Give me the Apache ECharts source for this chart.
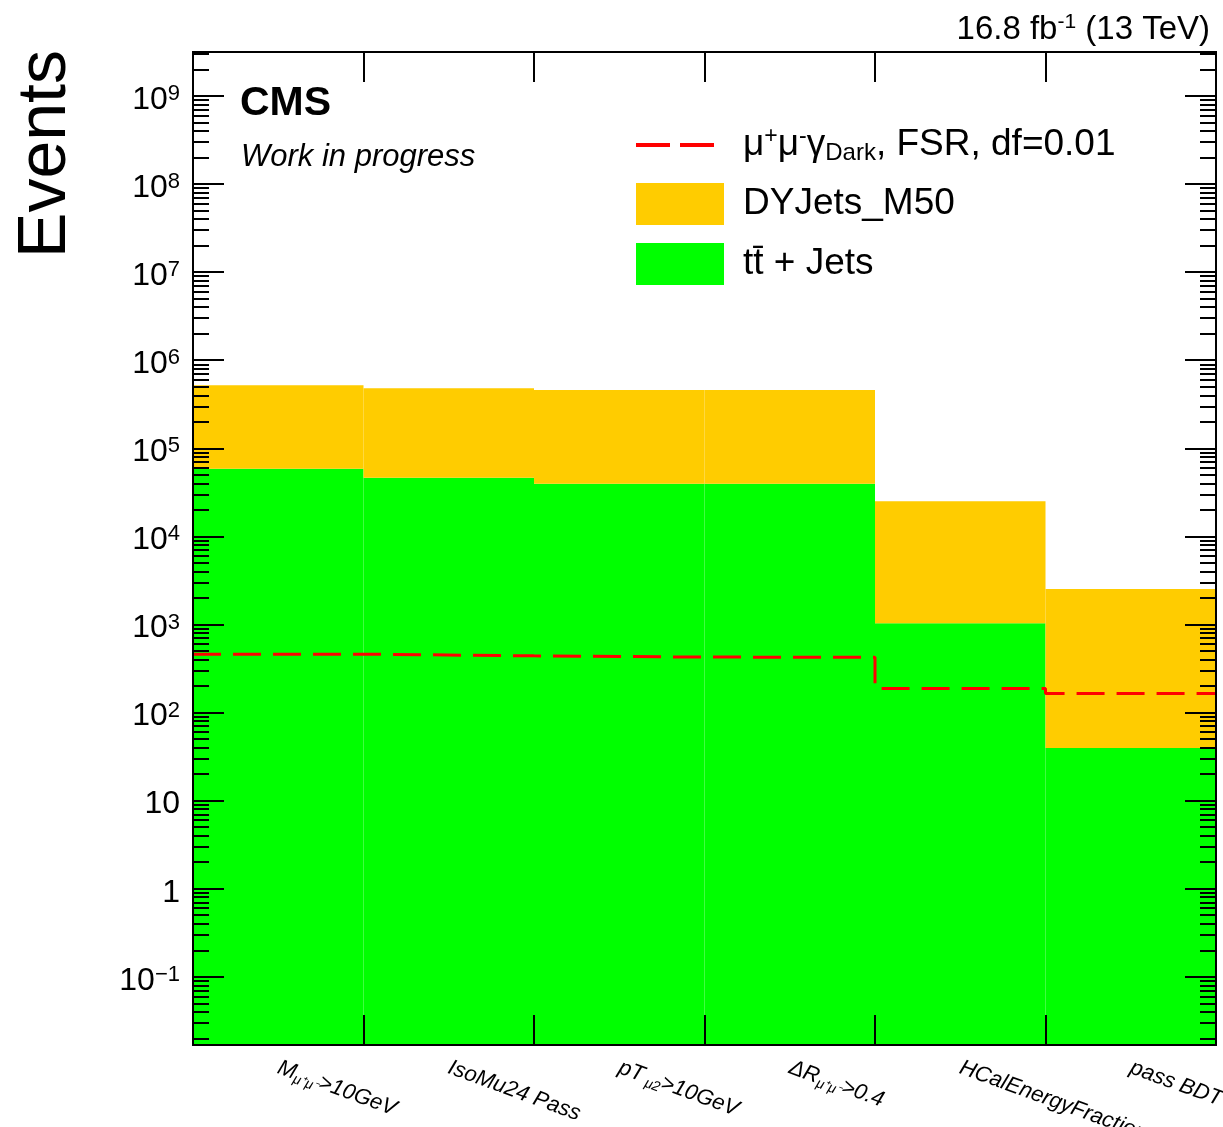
<!DOCTYPE html>
<html>
<head>
<meta charset="utf-8">
<script src="https://cdn.jsdelivr.net/npm/echarts@6/dist/echarts.min.js"></script>
<style>
html,body{margin:0;padding:0;background:#fff;overflow:hidden;}
#chart{width:1223px;height:1127px;}
</style>
</head>
<body>
<div id="chart"></div>
<script>
// ---------------- data ----------------
const categories = ['Mmumu>10GeV', 'IsoMu24 Pass', 'pTmu2>10GeV', 'dRmumu>0.4', 'HCalEnergyFraction', 'pass BDT'];
const categoryLabels = [
  '{it|M}{sub|μ⁺μ⁻}{it|>10GeV}',
  '{it|IsoMu24 Pass}',
  '{it|pT}{sub| μ2}{it|>10GeV}',
  '{it|ΔR}{sub|μ⁺μ⁻}{it|>0.4}',
  '{it|HCalEnergyFraction}',
  '{it|pass BDT}'
];
const ttJets = [58700, 46400, 39700, 39700, 1034, 39.5];
const dyJets = [459800, 433000, 418800, 418800, 24000, 2495];
const signal = [460, 440, 426, 425, 187, 164];
const seriesNames = ['μ+μ-γDark, FSR, df=0.01', 'DYJets_M50', 'tt̄ + Jets'];
const majorTickValues = [0.1, 1, 10, 1e2, 1e3, 1e4, 1e5, 1e6, 1e7, 1e8, 1e9];
const minorMultipliers = [2, 3, 4, 5, 6, 7, 8, 9];
const yMin = 0.0168, yMax = 3.16e9;

// ---------------- helpers ----------------
const FONT = "'Liberation Sans', Arial, Helvetica, sans-serif";
const minorTickValues = [];
[0.01].concat(majorTickValues).forEach(d => {
  minorMultipliers.forEach(m => {
    const v = d * m;
    if (v > yMin && v < yMax) minorTickValues.push(+v.toPrecision(3));
  });
});
const stepData = signal.map((v, i) => [i, v]).concat([[signal.length, signal[signal.length - 1]]]);

function yLabel(v) {
  const e = Math.round(Math.log10(v));
  if (e === 0) return '{b|1}';
  if (e === 1) return '{b|10}';
  return '{b|10}{s|' + (e < 0 ? '−' + (-e) : e) + '}';
}

const yBase = {
  type: 'log', logBase: 10, min: yMin, max: yMax, startValue: yMin,
  z: 10, splitLine: {show: false},
  axisLine: {show: true, lineStyle: {color: '#000', width: 2}}
};

const chart = echarts.init(document.getElementById('chart'), null, {renderer: 'canvas'});
chart.setOption({
  animation: false,
  backgroundColor: '#fff',
  grid: {left: 193, right: 7, top: 52, bottom: 82, containLabel: false, outerBoundsMode: 'none'},
  legend: {
    orient: 'vertical', left: 634, top: 125, padding: 0,
    itemWidth: 88, itemHeight: 42, itemGap: 18,
    data: [
      {name: seriesNames[0], itemStyle: {color: 'rgba(0,0,0,0)', borderWidth: 0, opacity: 0},
       lineStyle: {color: '#ff0000', width: 4, type: [34, 10]}},
      {name: seriesNames[1], icon: 'rect', itemStyle: {borderWidth: 0}},
      {name: seriesNames[2], icon: 'rect', itemStyle: {borderWidth: 0}}
    ],
    formatter: name => {
      if (name === seriesNames[0]) {
        return '{n|μ}{sup|+}{n|μ}{sup|-}{n|γ}{sub|Dark}{n|, FSR, df=0.01}';
      }
      return '{n|' + name + '}';
    },
    textStyle: {
      color: '#000', fontFamily: FONT, fontSize: 37, padding: [0, 0, 0, 14],
      rich: {
        n: {fontSize: 37, fontFamily: FONT, color: '#000', lineHeight: 40},
        sup: {fontSize: 23, fontFamily: FONT, color: '#000', lineHeight: 20, verticalAlign: 'top'},
        sub: {fontSize: 24, fontFamily: FONT, color: '#000', lineHeight: 14, verticalAlign: 'bottom'}
      }
    }
  },
  xAxis: [
    {
      type: 'category', data: categories, position: 'bottom', z: 10,
      axisLine: {show: true, lineStyle: {color: '#000', width: 2}},
      axisTick: {show: true, inside: true, length: 30, interval: 0, lineStyle: {color: '#000', width: 2}},
      splitLine: {show: false},
      axisLabel: {
        interval: 0, rotate: -20, align: 'left', margin: 22, hideOverlap: false,
        formatter: (v, i) => categoryLabels[i],
        rich: {
          it: {fontStyle: 'italic', fontSize: 22, fontFamily: FONT, color: '#000', lineHeight: 26},
          sub: {fontStyle: 'italic', fontSize: 14, fontFamily: FONT, color: '#000', lineHeight: 10, verticalAlign: 'bottom'}
        }
      }
    },
    {
      type: 'category', data: categories, position: 'top', z: 10,
      axisLine: {show: true, lineStyle: {color: '#000', width: 2}},
      axisTick: {show: true, inside: true, length: 30, interval: 0, lineStyle: {color: '#000', width: 2}},
      axisLabel: {show: false}, splitLine: {show: false}
    },
    {
      type: 'value', min: 0, max: categories.length, show: false
    }
  ],
  yAxis: [
    Object.assign({}, yBase, {
      position: 'left',
      axisTick: {show: true, inside: true, length: 31, customValues: majorTickValues, lineStyle: {color: '#000', width: 2}},
      axisLabel: {
        show: true, customValues: majorTickValues, margin: 13, formatter: yLabel,
        padding: [8, 0, 0, 0],
        rich: {
          b: {fontSize: 32, fontFamily: FONT, color: '#000', lineHeight: 34},
          s: {fontSize: 22, fontFamily: FONT, color: '#000', lineHeight: 18, verticalAlign: 'top'}
        }
      }
    }),
    Object.assign({}, yBase, {
      position: 'left',
      axisTick: {show: true, inside: true, length: 16, customValues: minorTickValues, lineStyle: {color: '#000', width: 2}},
      axisLabel: {show: false}
    }),
    Object.assign({}, yBase, {
      position: 'right',
      axisTick: {show: true, inside: true, length: 31, customValues: majorTickValues, lineStyle: {color: '#000', width: 2}},
      axisLabel: {show: false}
    }),
    Object.assign({}, yBase, {
      position: 'right',
      axisTick: {show: true, inside: true, length: 16, customValues: minorTickValues, lineStyle: {color: '#000', width: 2}},
      axisLabel: {show: false}
    })
  ],
  series: [
    {
      name: seriesNames[2], type: 'bar', stack: 'bkg', xAxisIndex: 0, yAxisIndex: 0,
      data: ttJets, barWidth: '100%', barCategoryGap: '0%', barGap: '0%',
      itemStyle: {color: '#00ff00', borderColor: '#00ff00', borderWidth: 2}, z: 2
    },
    {
      name: seriesNames[1], type: 'bar', stack: 'bkg', xAxisIndex: 0, yAxisIndex: 0,
      data: dyJets, barWidth: '100%', barCategoryGap: '0%', barGap: '0%',
      itemStyle: {color: '#ffcc00', borderColor: '#ffcc00', borderWidth: 2}, z: 2
    },
    {
      name: seriesNames[0], type: 'line', xAxisIndex: 2, yAxisIndex: 0,
      data: stepData, step: 'end', symbol: 'none', showSymbol: false,
      lineStyle: {color: '#ff0000', width: 3, type: [28, 12]},
      itemStyle: {color: 'rgba(0,0,0,0)'}, z: 5
    }
  ],
  graphic: [
    {type: 'text', x: 46, y: 50, rotation: Math.PI / 2, z: 20,
     style: {text: 'Events', fontSize: 68, fontFamily: FONT, fill: '#000', align: 'right', verticalAlign: 'middle'}},
    {type: 'text', x: 240, y: 104, z: 20,
     style: {text: 'CMS', fontSize: 41, fontWeight: 'bold', fontFamily: FONT, fill: '#000', align: 'left', verticalAlign: 'middle'}},
    {type: 'text', x: 241, y: 157, z: 20,
     style: {text: 'Work in progress', fontSize: 31, fontStyle: 'italic', fontFamily: FONT, fill: '#000', align: 'left', verticalAlign: 'middle'}},
    {type: 'text', x: 1210, y: 30, z: 20,
     style: {
       text: '{n|16.8 fb}{s|-1}{n| (13 TeV)}', align: 'right', verticalAlign: 'middle', fill: '#000',
       rich: {
         n: {fontSize: 33, fontFamily: FONT, fill: '#000', lineHeight: 36},
         s: {fontSize: 21, fontFamily: FONT, fill: '#000', lineHeight: 20, verticalAlign: 'top'}
       }
     }}
  ]
});
</script>
</body>
</html>
